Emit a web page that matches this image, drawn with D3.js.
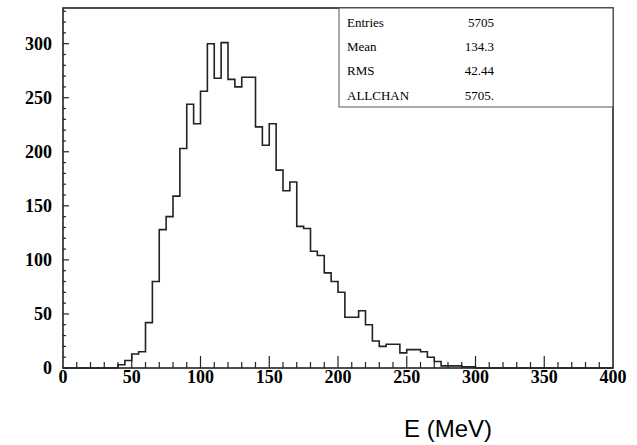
<!DOCTYPE html>
<html>
<head>
<meta charset="utf-8">
<script src="https://cdn.jsdelivr.net/npm/d3@7"></script>
<style>
  body { margin: 0; background: #fff; }
  svg { display: block; }
</style>
</head>
<body>
<div id="chart"></div>
<script>
// histogram contents, 5 MeV bins from 0 to 400
var binWidth = 5;
var binLow = d3.range(0, 400, binWidth);
var counts = [
    0, 0, 0, 0, 0, 0, 0, 0, 3, 7,
    13, 15, 42, 80, 128, 140, 159, 203, 244, 226,
    256, 300, 268, 301, 267, 260, 269, 269, 223, 206,
    226, 183, 164, 172, 131, 129, 108, 104, 88, 80,
    70, 47, 47, 53, 40, 25, 20, 22, 22, 14,
    17, 17, 15, 10, 6, 2, 2, 2, 1, 1,
    0, 0, 0, 0, 0, 0, 0, 0, 0, 0,
    0, 0, 0, 0, 0, 0, 0, 0, 0, 0
];
var xTicks = [0, 50, 100, 150, 200, 250, 300, 350, 400];
var yTicks = [0, 50, 100, 150, 200, 250, 300];
var statNames = ["Entries", "Mean", "RMS", "ALLCHAN"];
var statValues = ["5705", "134.3", "42.44", "5705."];
var xTitle = "E (MeV)";

var W = 637, H = 445;
var padL = 63, padR = 613, padT = 8, padB = 368; // frame edges in px

var svg = d3.select("#chart").append("svg")
    .attr("width", W)
    .attr("height", H);

var x = d3.scaleLinear().domain([0, 400]).range([padL, padR]);
var y = d3.scaleLinear().domain([0, 333]).range([padB, padT]);

// frame
svg.append("rect")
    .attr("x", padL).attr("y", padT)
    .attr("width", padR - padL).attr("height", padB - padT)
    .attr("fill", "none")
    .attr("stroke", "#222")
    .attr("stroke-width", 1.6);

// minor ticks every 10 units, major every 50
var xMinor = d3.range(10, 400, 10).filter(function (v) { return v % 50 != 0; });
var yMinor = d3.range(10, 333, 10).filter(function (v) { return v % 50 != 0; });

svg.append("g").selectAll("line")
    .data(xMinor).enter().append("line")
    .attr("x1", function (d) { return x(d); }).attr("x2", function (d) { return x(d); })
    .attr("y1", padB).attr("y2", padB - 6)
    .attr("stroke", "#222").attr("stroke-width", 1.2);

svg.append("g").selectAll("line")
    .data(xTicks.slice(1, -1)).enter().append("line")
    .attr("x1", function (d) { return x(d); }).attr("x2", function (d) { return x(d); })
    .attr("y1", padB).attr("y2", padB - 12)
    .attr("stroke", "#222").attr("stroke-width", 1.2);

svg.append("g").selectAll("line")
    .data(yMinor).enter().append("line")
    .attr("x1", padL).attr("x2", padL + 3)
    .attr("y1", function (d) { return y(d); }).attr("y2", function (d) { return y(d); })
    .attr("stroke", "#222").attr("stroke-width", 1.2);

svg.append("g").selectAll("line")
    .data(yTicks.slice(1)).enter().append("line")
    .attr("x1", padL).attr("x2", padL + 6)
    .attr("y1", function (d) { return y(d); }).attr("y2", function (d) { return y(d); })
    .attr("stroke", "#222").attr("stroke-width", 1.2);

// tick labels
svg.append("g").selectAll("text")
    .data(xTicks).enter().append("text")
    .attr("x", function (d) { return x(d); })
    .attr("y", 383)
    .attr("text-anchor", "middle")
    .style("font-family", "'Liberation Serif', 'DejaVu Serif', serif")
    .style("font-weight", "bold")
    .style("font-size", "18px")
    .text(function (d) { return d; });

svg.append("g").selectAll("text")
    .data(yTicks).enter().append("text")
    .attr("x", 52)
    .attr("y", function (d) { return y(d); })
    .attr("dy", "0.35em")
    .attr("text-anchor", "end")
    .style("font-family", "'Liberation Serif', 'DejaVu Serif', serif")
    .style("font-weight", "bold")
    .style("font-size", "18px")
    .text(function (d) { return d; });

// histogram outline
var pts = binLow.map(function (b, i) { return [b, counts[i]]; });
pts.push([400, counts[counts.length - 1]]);

var line = d3.line()
    .x(function (d) { return x(d[0]); })
    .y(function (d) { return y(d[1]); })
    .curve(d3.curveStepAfter);

svg.append("path")
    .datum(pts)
    .attr("d", line)
    .attr("fill", "none")
    .attr("stroke", "#222")
    .attr("stroke-width", 1.6);

// stats box
var boxX = 339, boxY = padT, boxW = padR - 339, boxH = 99;
svg.append("rect")
    .attr("x", boxX).attr("y", boxY)
    .attr("width", boxW).attr("height", boxH)
    .attr("fill", "#fff")
    .attr("stroke", "#555")
    .attr("stroke-width", 1);

var rowY = d3.scaleLinear().domain([0, 3]).range([22, 95]);

svg.append("g").selectAll("text")
    .data(statNames).enter().append("text")
    .attr("x", 347)
    .attr("y", function (d, i) { return rowY(i); })
    .attr("dy", "0.35em")
    .style("font-family", "'Liberation Serif', serif")
    .style("font-size", "13px")
    .text(function (d) { return d; });

svg.append("g").selectAll("text")
    .data(statValues).enter().append("text")
    .attr("x", 494)
    .attr("y", function (d, i) { return rowY(i); })
    .attr("dy", "0.35em")
    .attr("text-anchor", "end")
    .style("font-family", "'Liberation Serif', serif")
    .style("font-size", "13px")
    .text(function (d) { return d; });

// axis title
svg.append("text")
    .attr("x", 448)
    .attr("y", 437)
    .attr("text-anchor", "middle")
    .style("font-family", "'Liberation Sans', Arial, sans-serif")
    .style("font-size", "24px")
    .text(xTitle);
</script>
</body>
</html>
